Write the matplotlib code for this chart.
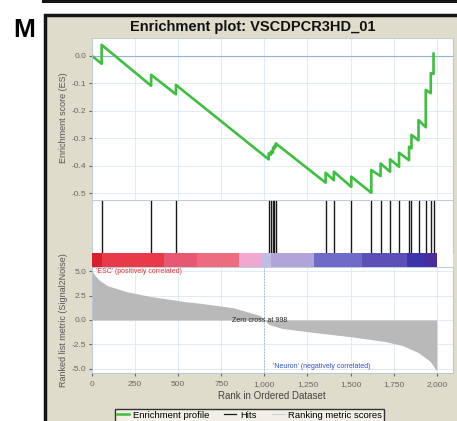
import matplotlib
matplotlib.use('Agg')
import matplotlib.pyplot as plt
from matplotlib.patches import Rectangle
from matplotlib.lines import Line2D

plt.rcParams['font.family'] = ['Liberation Sans', 'DejaVu Sans']

# hits (rank positions of gene set members)
hit_rank = [56, 343, 487, 1025, 1039, 1050, 1058, 1066, 1355, 1403, 1504,
            1620, 1674, 1729, 1781, 1839, 1853, 1894, 1936, 1965, 1981]
# running enrichment score just before / at each hit
es_before = [-0.029, -0.109, -0.140, -0.377, -0.360, -0.352, -0.338, -0.330,
             -0.462, -0.453, -0.477, -0.499, -0.438, -0.422, -0.404, -0.380,
             -0.337, -0.308, -0.260, -0.136, -0.066]
es_after = [0.040, -0.069, -0.106, -0.355, -0.348, -0.335, -0.328, -0.319,
            -0.426, -0.422, -0.440, -0.416, -0.392, -0.377, -0.353, -0.331,
            -0.288, -0.234, -0.124, -0.063, 0.008]

# ranked list metric
metric_rank = [0, 15, 40, 90, 200, 340, 530, 630, 820, 975, 998, 1025, 1100,
               1300, 1500, 1700, 1800, 1890, 1960, 2000]
metric_val = [5.0, 4.6, 4.1, 3.5, 2.9, 2.4, 1.9, 1.7, 1.25, 0.45, 0.0, -0.45,
              -0.85, -1.3, -1.7, -2.2, -2.6, -3.3, -4.2, -5.2]
zero_cross = 998

# heat bar blocks
bar_edges = [0, 60, 415, 608, 851, 986, 1040, 1287, 1568, 1829, 1930, 2000]
bar_colors = ['#d8202c', '#e83a48', '#e85872', '#ee6c80', '#f0a8d0', '#c0bce6',
              '#b0a4d8', '#6e6cc8', '#5a50b8', '#3c34a8', '#4a2c9c']

xticks = [0, 250, 500, 750, 1000, 1250, 1500, 1750, 2000]
xticklabels = ['0', '250', '500', '750', '1,000', '1,250', '1,500', '1,750', '2,000']
es_ticks = [0.0, -0.1, -0.2, -0.3, -0.4, -0.5]
m_ticks = [5.0, 2.5, 0.0, -2.5, -5.0]

W, H = 457, 421
fig = plt.figure(figsize=(W / 100, H / 100), dpi=100)


def box(x0, y0, x1, y1):
    return [x0 / W, 1 - y1 / H, (x1 - x0) / W, (y1 - y0) / H]


fig.patches.append(Rectangle((44.5 / W, -0.1), 1, 1.1 - 14.5 / H, transform=fig.transFigure,
                             facecolor='#e0dccb', edgecolor='#151515', linewidth=2.5,
                             zorder=-10))
fig.patches.append(Rectangle((42 / W, 1 - 2.5 / H), 1, 2.5 / H, transform=fig.transFigure,
                             facecolor='#151515', edgecolor='none', zorder=-10))

fig.text(24 / W, 1 - 30 / H, 'M', fontsize=19, fontweight='bold', ha='center', va='center')
fig.text(253 / W, 1 - 27 / H, 'Enrichment plot: VSCDPCR3HD_01', fontsize=10.5,
         fontweight='bold', ha='center', va='center', color='#111111')

xmax = 2094
grid_c = '#dce8f4'
spine_c = '#b0c4d8'
tick_c = '#666666'

ax_es = fig.add_axes(box(92, 38, 453, 200))
ax_hit = fig.add_axes(box(92, 200, 453, 253))
ax_bar = fig.add_axes(box(92, 253, 453, 267))
ax_m = fig.add_axes(box(92, 267, 453, 373))

for ax in (ax_es, ax_hit, ax_bar, ax_m):
    ax.set_xlim(0, xmax)
    ax.set_facecolor('white')
    for s in ax.spines.values():
        s.set_color(spine_c)
        s.set_linewidth(0.6)

# enrichment profile
xs = [0]
ys = [0.0]
for r, b, a in zip(hit_rank, es_before, es_after):
    xs += [r, r]
    ys += [b, a]
ax_es.set_ylim(-0.525, 0.065)
ax_es.set_xticks(xticks)
ax_es.set_xticklabels([])
ax_es.set_yticks(es_ticks)
ax_es.set_yticklabels(['%.1f' % t for t in es_ticks])
ax_es.grid(True, color=grid_c, lw=0.6)
ax_es.set_axisbelow(True)
ax_es.axhline(0, color='#8fb4dc', lw=0.8)
ax_es.plot(xs, ys, color='#3fbf3f', lw=1.9)
ax_es.tick_params(axis='y', labelsize=6, colors=tick_c, length=2, pad=2)
ax_es.tick_params(axis='x', length=0)

# hits
ax_hit.set_ylim(0, 1)
ax_hit.vlines(hit_rank, 0, 1, color='#1a1a1a', lw=1.0)
ax_hit.set_xticks([])
ax_hit.set_yticks([])

# heat bar
ax_bar.set_ylim(0, 1)
for e0, e1, c in zip(bar_edges[:-1], bar_edges[1:], bar_colors):
    ax_bar.axvspan(e0, e1, color=c, lw=0)
ax_bar.set_xticks([])
ax_bar.set_yticks([])
for s in ax_bar.spines.values():
    s.set_visible(False)

# ranked list metric
ax_m.set_ylim(-5.41, 5.41)
ax_m.fill_between(metric_rank, metric_val, 0, color='#b9b9b9', lw=0)
ax_m.axvline(zero_cross, color='#9ab8d8', ls=(0, (1.5, 1.5)), lw=0.7)
ax_m.set_xticks(xticks)
ax_m.set_xticklabels(xticklabels)
ax_m.set_yticks(m_ticks)
ax_m.set_yticklabels(['%.1f' % t for t in m_ticks])
ax_m.grid(True, color=grid_c, lw=0.6)
ax_m.set_axisbelow(True)
ax_m.tick_params(labelsize=6, colors=tick_c, length=2, pad=2)
ax_m.tick_params(axis='x', pad=4)
ax_m.text(25, 5.3, "'ESC' (positively correlated)", color='#e03030', fontsize=5,
          ha='left', va='top')
ax_m.text(975, 0.0, 'Zero cross at %d' % zero_cross, color='#222222', fontsize=5,
          ha='center', va='center')
ax_m.text(1050, -4.75, "'Neuron' (negatively correlated)", color='#3050d0', fontsize=5,
          ha='left', va='center')

fig.text(63 / W, 1 - 118 / H, 'Enrichment score (ES)', rotation=90, fontsize=6.5,
         color='#555555', ha='center', va='center')
fig.text(63 / W, 1 - 320 / H, 'Ranked list metric (Signal2Noise)', rotation=90,
         fontsize=6.5, color='#555555', ha='center', va='center')
fig.text(272 / W, 1 - 396 / H, 'Rank in Ordered Dataset', fontsize=7,
         color='#444444', ha='center', va='center')

handles = [Line2D([], [], color='#3fbf3f', lw=1.8),
           Line2D([], [], color='#1a1a1a', lw=0.9),
           Line2D([], [], color='#c8d4e0', lw=0.9)]
labels = ['Enrichment profile', 'Hits', 'Ranking metric scores']
fig.legend(handles, labels, loc='upper left', bbox_to_anchor=(110 / W, 1 - 404 / H),
           ncol=3, fontsize=6.8, frameon=True, fancybox=False, edgecolor='#333333',
           facecolor='#f2efe6', framealpha=1, handlelength=1.3, columnspacing=1.6,
           handletextpad=0.4, borderpad=0.2)

fig.savefig('out.png', dpi=100)
